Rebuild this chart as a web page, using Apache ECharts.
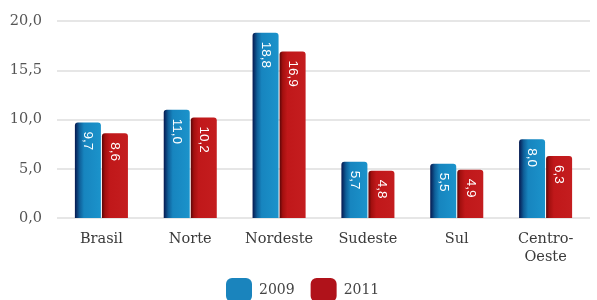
<!DOCTYPE html>
<html><head><meta charset="utf-8">
<script src="https://cdn.jsdelivr.net/npm/echarts@6/dist/echarts.min.js"></script>
<style>html,body{margin:0;padding:0;background:#fff}#c{width:597px;height:300px}</style>
</head><body><div id="c"></div>
<script>
var categories = ['Brasil', 'Norte', 'Nordeste', 'Sudeste', 'Sul', 'Centro-\nOeste'];
var values2009 = [9.7, 11.0, 18.8, 5.7, 5.5, 8.0];
var values2011 = [8.6, 10.2, 16.9, 4.8, 4.9, 6.3];
var yTickLabels = ['0,0', '5,0', '10,0', '15,5', '20,0'];
var seriesNames = ['2009', '2011'];

var font = '"DejaVu Serif", serif';
function fmt(v){ return v.toFixed(1).replace('.', ','); }
var blue = new echarts.graphic.LinearGradient(0,0,1,0,[{offset:0,color:'#06184f'},{offset:0.18,color:'#0f5f99'},{offset:0.35,color:'#1785bf'},{offset:1,color:'#1b93cb'}]);
var red = new echarts.graphic.LinearGradient(0,0,1,0,[{offset:0,color:'#5a0608'},{offset:0.12,color:'#a3100f'},{offset:0.3,color:'#c0181a'},{offset:1,color:'#c41d1f'}]);
var lbl = {show:true, position:'insideTop', distance:9, rotate:-90, align:'left', verticalAlign:'middle',
  color:'#fff', fontFamily:'"Liberation Sans", Arial, sans-serif', fontSize:13.5,
  formatter:function(p){return fmt(p.value);}};

var chart = echarts.init(document.getElementById('c'), null, {renderer:'canvas'});
chart.setOption({
  animation:false,
  grid:{left:57, right:7, top:21, bottom:82},
  legend:{top:278, left:226, padding:0, itemWidth:26, itemHeight:24, itemGap:16,
    textStyle:{fontFamily:font, fontSize:14, color:'#444', padding:[0,0,0,2]},
    data:[{name:'2009', itemStyle:{color:'#1a84bd'}}, {name:'2011', itemStyle:{color:'#b0121a'}}]},
  xAxis:{type:'category', data:categories,
    axisLine:{show:false}, axisTick:{show:false},
    axisLabel:{interval:0, fontFamily:font, fontSize:14.5, color:'#3a3a3a', margin:12, lineHeight:18}},
  yAxis:{type:'value', min:0, max:20, interval:5,
    axisLabel:{fontFamily:font, fontSize:14.5, color:'#555', margin:15,
      formatter:function(v){return yTickLabels[Math.round(v/5)];}},
    splitLine:{lineStyle:{color:'#dedede', width:1.5}}},
  series:[
    {name:seriesNames[0], type:'bar', data:values2009, barWidth:26, barGap:'4%',
      itemStyle:{color:blue, borderRadius:[3,3,0,0]}, label:lbl},
    {name:seriesNames[1], type:'bar', data:values2011, barWidth:26,
      itemStyle:{color:red, borderRadius:[3,3,0,0]}, label:lbl}
  ]
});
</script></body></html>
